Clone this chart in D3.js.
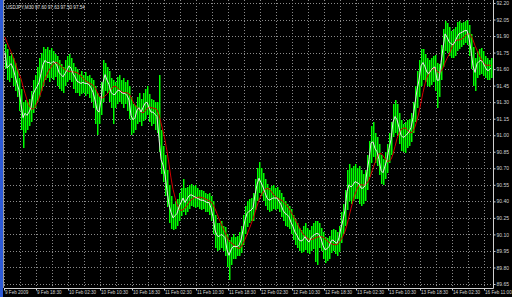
<!DOCTYPE html>
<html>
<head>
<meta charset="utf-8">
<script src="https://cdnjs.cloudflare.com/ajax/libs/d3/7.8.5/d3.min.js"></script>
<style>
  html, body { margin: 0; padding: 0; background: #000; overflow: hidden; }
  svg { display: block; }
  text { font-family: "Liberation Sans", Arial, sans-serif; fill: #d4d4d4; }
</style>
</head>
<body>
<div id="dataVis"></div>
<script>
//chart title as shown in the terminal
var symbolTitle = 'USDJPY,M30  97.60 97.63 97.50 97.54';

//time labels, one every 16 bars
var dateLabels = ['9 Feb 2009', '9 Feb 18:30', '10 Feb 02:30', '10 Feb 10:30', '10 Feb 18:30', '11 Feb 02:30',
    '11 Feb 10:30', '11 Feb 18:30', '12 Feb 02:30', '12 Feb 10:30', '12 Feb 18:30', '13 Feb 02:30',
    '13 Feb 10:30', '13 Feb 18:30', '14 Feb 02:30', '16 Feb 11:00'];

//price scale labels
var priceTicks = [89.65, 89.80, 89.95, 90.10, 90.25, 90.40, 90.55, 90.70, 90.85, 91.00,
    91.15, 91.30, 91.45, 91.60, 91.75, 91.90, 92.05, 92.20];

//closes of the bars just before the visible window (needed for the moving average)
var earlierCloses = [91.95, 91.93, 91.94, 91.90, 91.90, 91.86];

var closes = [
    91.75, 91.61, 91.63, 91.65, 91.61, 91.54, 91.47, 91.41, 91.28, 91.16,
    91.20, 91.18, 91.21, 91.25, 91.37, 91.41, 91.44, 91.48, 91.56, 91.64,
    91.68, 91.66, 91.66, 91.65, 91.67, 91.66, 91.63, 91.57, 91.55, 91.53,
    91.56, 91.59, 91.63, 91.61, 91.56, 91.53, 91.49, 91.48, 91.47, 91.48,
    91.47, 91.47, 91.46, 91.43, 91.39, 91.32, 91.23, 91.21, 91.32, 91.48,
    91.55, 91.50, 91.46, 91.39, 91.37, 91.37, 91.40, 91.41, 91.39, 91.38,
    91.38, 91.36, 91.32, 91.18, 91.14, 91.16, 91.23, 91.25, 91.21, 91.25,
    91.29, 91.30, 91.25, 91.21, 91.21, 91.19, 91.17, 90.97, 90.78, 90.73,
    90.64, 90.50, 90.37, 90.30, 90.25, 90.27, 90.29, 90.35, 90.39, 90.43,
    90.39, 90.42, 90.45, 90.46, 90.45, 90.44, 90.43, 90.42, 90.41, 90.41,
    90.40, 90.39, 90.39, 90.34, 90.26, 90.14, 90.09, 90.08, 90.10, 90.09,
    90.07, 89.96, 89.91, 89.96, 89.99, 89.99, 89.99, 90.00, 90.05, 90.14,
    90.23, 90.29, 90.31, 90.32, 90.34, 90.46, 90.55, 90.61, 90.57, 90.53,
    90.48, 90.43, 90.41, 90.42, 90.43, 90.43, 90.43, 90.40, 90.37, 90.32,
    90.29, 90.28, 90.26, 90.21, 90.17, 90.12, 90.09, 90.05, 90.04, 90.05,
    90.08, 90.05, 90.03, 90.07, 90.09, 90.10, 90.11, 90.10, 90.06, 90.00,
    89.96, 89.97, 89.99, 90.04, 90.05, 90.03, 90.02, 90.07, 90.16, 90.23,
    90.32, 90.49, 90.55, 90.53, 90.55, 90.58, 90.57, 90.56, 90.52, 90.52,
    90.54, 90.67, 90.78, 90.93, 90.94, 90.88, 90.85, 90.78, 90.68, 90.66,
    90.72, 90.78, 90.88, 90.96, 91.12, 91.17, 91.14, 91.07, 91.00, 90.98,
    90.99, 91.01, 91.03, 91.07, 91.16, 91.29, 91.41, 91.50, 91.63, 91.66,
    91.62, 91.57, 91.56, 91.59, 91.61, 91.62, 91.50, 91.50, 91.66, 91.79,
    91.92, 91.89, 91.85, 91.83, 91.82, 91.85, 91.89, 91.92, 91.93, 91.94,
    91.95, 91.95, 91.88, 91.77, 91.63, 91.57, 91.65, 91.67, 91.68, 91.66,
    91.62, 91.59, 91.59, 91.61];

var highs = [
    91.83, 91.78, 91.72, 91.75, 91.70, 91.66, 91.60, 91.52, 91.42, 91.30,
    91.32, 91.30, 91.33, 91.40, 91.50, 91.55, 91.62, 91.70, 91.75, 91.80,
    91.78, 91.80, 91.77, 91.79, 91.76, 91.74, 91.72, 91.68, 91.65, 91.62,
    91.68, 91.72, 91.74, 91.70, 91.66, 91.62, 91.60, 91.56, 91.58, 91.55,
    91.57, 91.54, 91.55, 91.52, 91.50, 91.45, 91.38, 91.35, 91.48, 91.68,
    91.66, 91.62, 91.58, 91.52, 91.50, 91.48, 91.53, 91.55, 91.50, 91.52,
    91.48, 91.50, 91.45, 91.35, 91.28, 91.27, 91.35, 91.38, 91.33, 91.38,
    91.42, 91.45, 91.37, 91.33, 91.32, 91.30, 91.30, 91.55, 91.05, 90.90,
    90.82, 90.68, 90.55, 90.45, 90.38, 90.40, 90.42, 90.48, 90.52, 90.60,
    90.52, 90.53, 90.55, 90.56, 90.54, 90.55, 90.52, 90.50, 90.50, 90.49,
    90.48, 90.47, 90.48, 90.45, 90.40, 90.28, 90.20, 90.20, 90.22, 90.18,
    90.17, 90.10, 90.05, 90.08, 90.10, 90.08, 90.09, 90.12, 90.18, 90.28,
    90.36, 90.40, 90.42, 90.43, 90.48, 90.60, 90.70, 90.76, 90.70, 90.66,
    90.60, 90.56, 90.52, 90.54, 90.55, 90.52, 90.53, 90.50, 90.48, 90.44,
    90.40, 90.38, 90.36, 90.33, 90.28, 90.24, 90.20, 90.16, 90.14, 90.18,
    90.20, 90.16, 90.14, 90.18, 90.20, 90.22, 90.22, 90.20, 90.16, 90.12,
    90.08, 90.07, 90.09, 90.14, 90.15, 90.14, 90.12, 90.18, 90.30, 90.38,
    90.50, 90.68, 90.74, 90.70, 90.72, 90.74, 90.70, 90.72, 90.68, 90.65,
    90.68, 90.82, 90.95, 91.08, 91.12, 91.02, 90.98, 90.92, 90.82, 90.78,
    90.85, 90.92, 91.02, 91.12, 91.28, 91.32, 91.28, 91.20, 91.14, 91.10,
    91.12, 91.14, 91.15, 91.20, 91.30, 91.45, 91.58, 91.68, 91.78, 91.78,
    91.74, 91.70, 91.68, 91.70, 91.72, 91.73, 91.66, 91.65, 91.82, 91.96,
    92.04, 92.02, 91.98, 91.95, 91.96, 91.98, 92.03, 92.04, 92.02, 92.03,
    92.04, 92.05, 92.00, 91.92, 91.80, 91.70, 91.76, 91.78, 91.79, 91.76,
    91.72, 91.70, 91.68, 91.70];

var lows = [
    91.60, 91.50, 91.48, 91.52, 91.45, 91.40, 91.35, 91.22, 91.05, 90.88,
    91.02, 91.05, 91.08, 91.12, 91.20, 91.25, 91.30, 91.35, 91.40, 91.45,
    91.50, 91.52, 91.48, 91.52, 91.50, 91.53, 91.45, 91.42, 91.40, 91.38,
    91.45, 91.48, 91.50, 91.48, 91.42, 91.38, 91.38, 91.36, 91.37, 91.38,
    91.36, 91.37, 91.34, 91.30, 91.25, 91.10, 91.00, 91.10, 91.18, 91.30,
    91.40, 91.38, 91.30, 91.25, 91.10, 91.25, 91.28, 91.30, 91.28, 91.25,
    91.28, 91.22, 91.15, 91.00, 91.02, 91.05, 91.10, 91.12, 91.08, 91.13,
    91.15, 91.18, 91.12, 91.08, 91.10, 91.05, 91.02, 90.85, 90.65, 90.58,
    90.45, 90.35, 90.20, 90.15, 90.14, 90.15, 90.18, 90.22, 90.27, 90.30,
    90.28, 90.30, 90.33, 90.36, 90.35, 90.34, 90.35, 90.33, 90.32, 90.33,
    90.30, 90.30, 90.28, 90.22, 90.10, 89.98, 89.95, 89.96, 89.98, 89.95,
    89.90, 89.80, 89.69, 89.82, 89.88, 89.88, 89.90, 89.90, 89.93, 90.00,
    90.10, 90.17, 90.20, 90.22, 90.22, 90.32, 90.40, 90.48, 90.45, 90.40,
    90.36, 90.32, 90.30, 90.31, 90.33, 90.32, 90.33, 90.30, 90.26, 90.22,
    90.18, 90.17, 90.15, 90.10, 90.05, 90.00, 89.98, 89.95, 89.93, 89.94,
    89.96, 89.93, 89.92, 89.95, 89.97, 89.85, 89.82, 89.98, 89.95, 89.88,
    89.84, 89.86, 89.88, 89.93, 89.95, 89.92, 89.90, 89.94, 90.02, 90.10,
    90.18, 90.32, 90.40, 90.38, 90.40, 90.42, 90.42, 90.38, 90.36, 90.38,
    90.40, 90.50, 90.62, 90.75, 90.80, 90.75, 90.72, 90.64, 90.56, 90.55,
    90.60, 90.66, 90.75, 90.82, 90.98, 91.02, 91.00, 90.92, 90.86, 90.85,
    90.84, 90.88, 90.90, 90.94, 91.02, 91.12, 91.25, 91.35, 91.45, 91.50,
    91.48, 91.45, 91.44, 91.46, 91.48, 91.40, 91.25, 91.35, 91.50, 91.62,
    91.76, 91.75, 91.72, 91.70, 91.70, 91.72, 91.76, 91.78, 91.80, 91.82,
    91.84, 91.82, 91.72, 91.60, 91.45, 91.40, 91.52, 91.55, 91.56, 91.54,
    91.52, 91.50, 91.50, 91.52];

var maPeriod = 7;
var barsPerLabel = 16;
var barsPerGrid = 8;


var width = 512;
var height = 297;

//plot area of the terminal window
var plot = { left: 4, right: 493, top: 0, bottom: 288 };


var svg = d3.select("#dataVis").append("svg")
    .attr("width", width)
    .attr("height", height);

svg.append("rect")
    .attr("width", width)
    .attr("height", height)
    .style("fill", "#000");

//window frame on the left
svg.append("rect")
    .attr("x", 0)
    .attr("y", 0)
    .attr("width", 3)
    .attr("height", height)
    .style("fill", "#2d5ad6");


//scales
var xScale = d3.scaleLinear()
    .domain([0, closes.length - 1])
    .range([5, 491]);

var yScale = d3.scaleLinear()
    .domain([89.65, 92.20])
    .range([284, 3]);


function px(v) {
    return Math.round(v) + 0.5;
}


//grid
var grid = svg.append("g").attr("class", "grid");

grid.selectAll(".hgrid")
    .data(priceTicks)
    .enter().append("line")
    .attr("class", "hgrid")
    .attr("x1", plot.left)
    .attr("x2", plot.right)
    .attr("y1", function (d) { return px(yScale(d)); })
    .attr("y2", function (d) { return px(yScale(d)); })
    .style("stroke", "#8a8a8a")
    .style("stroke-dasharray", "1,2");

grid.selectAll(".vgrid")
    .data(d3.range(0, closes.length, barsPerGrid))
    .enter().append("line")
    .attr("class", "vgrid")
    .attr("x1", function (d) { return px(xScale(d) - 1); })
    .attr("x2", function (d) { return px(xScale(d) - 1); })
    .attr("y1", plot.top)
    .attr("y2", plot.bottom)
    .style("stroke", "#8a8a8a")
    .style("stroke-dasharray", "1,2");


//price bars: a 2px wide high-low rectangle, bright on the left pixel and darker on the right one
var bars = d3.range(closes.length).map(function (i) {
    return { i: i, high: highs[i], low: lows[i], close: closes[i] };
});

var barG = svg.append("g").attr("class", "bars");

function barTop(d) { return Math.round(yScale(d.high)); }
function barHeight(d) { return Math.max(1, Math.round(yScale(d.low)) - Math.round(yScale(d.high))); }

barG.selectAll(".barShade")
    .data(bars)
    .enter().append("rect")
    .attr("class", "barShade")
    .attr("x", function (d) { return Math.round(xScale(d.i)) + 1; })
    .attr("y", barTop)
    .attr("width", 1)
    .attr("height", barHeight)
    .style("fill", "#007a00")
    .style("shape-rendering", "crispEdges");

barG.selectAll(".bar")
    .data(bars)
    .enter().append("rect")
    .attr("class", "bar")
    .attr("x", function (d) { return Math.round(xScale(d.i)); })
    .attr("y", barTop)
    .attr("width", 1)
    .attr("height", barHeight)
    .style("fill", "#00ff00")
    .style("shape-rendering", "crispEdges");


//moving average of the closes
var allCloses = earlierCloses.concat(closes);
var maData = closes.map(function (c, i) {
    var j = i + earlierCloses.length;
    return { i: i, value: d3.mean(allCloses.slice(j - maPeriod + 1, j + 1)) };
});

var line = d3.line()
    .x(function (d) { return xScale(d.i); })
    .y(function (d) { return yScale(d.value); });

svg.append("path")
    .datum(maData)
    .attr("class", "ma")
    .style("fill", "none")
    .style("stroke", "#d00000")
    .style("stroke-width", 1)
    .attr("d", line);

svg.append("path")
    .datum(bars.map(function (d) { return { i: d.i, value: d.close }; }))
    .attr("class", "closeLine")
    .style("fill", "none")
    .style("stroke", "#e6e6e6")
    .style("stroke-width", 1)
    .attr("d", line);


//frame lines
svg.append("line")
    .attr("x1", 3.5).attr("x2", 3.5)
    .attr("y1", plot.top).attr("y2", plot.bottom)
    .style("stroke", "#9a9a9a");

svg.append("line")
    .attr("x1", plot.right + 0.5).attr("x2", plot.right + 0.5)
    .attr("y1", plot.top).attr("y2", plot.bottom + 0.5)
    .style("stroke", "#d0d0d0");

svg.append("line")
    .attr("x1", plot.left).attr("x2", plot.right + 0.5)
    .attr("y1", plot.bottom + 0.5).attr("y2", plot.bottom + 0.5)
    .style("stroke", "#d0d0d0");


//price axis on the right
var yAxisCall = d3.axisRight(yScale)
    .tickValues(priceTicks)
    .tickFormat(d3.format(".2f"))
    .tickSize(2)
    .tickPadding(1);

var yAxis = svg.append("g")
    .attr("class", "y axis")
    .attr("transform", "translate(" + (plot.right + 0.5) + ",0)")
    .call(yAxisCall);

yAxis.select(".domain").remove();
yAxis.selectAll("line").style("stroke", "#d0d0d0");
yAxis.selectAll("text")
    .style("fill", "#d4d4d4")
    .style("font-size", "5px")
    .style("font-family", "Liberation Sans, Arial, sans-serif");


//time axis at the bottom
var labelIndex = dateLabels.map(function (d, k) { return k * barsPerLabel; });

var xAxisCall = d3.axisBottom(xScale)
    .tickValues(labelIndex)
    .tickFormat(function (d, k) { return dateLabels[k]; })
    .tickSize(2)
    .tickPadding(1);

var xAxis = svg.append("g")
    .attr("class", "x axis")
    .attr("transform", "translate(-1," + (plot.bottom + 0.5) + ")")
    .call(xAxisCall);

xAxis.select(".domain").remove();
xAxis.selectAll("line").style("stroke", "#d0d0d0");
xAxis.selectAll("text")
    .style("fill", "#d4d4d4")
    .attr("text-anchor", "start")
    .attr("x", 0.5)
    .attr("dy", "0.6em")
    .style("font-size", "4.6px")
    .style("font-family", "Liberation Sans, Arial, sans-serif");


//symbol title
svg.append("text")
    .attr("x", 6)
    .attr("y", 9)
    .style("fill", "#e0e0e0")
    .style("font-size", "4.6px")
    .text(symbolTitle);
</script>
</body>
</html>
